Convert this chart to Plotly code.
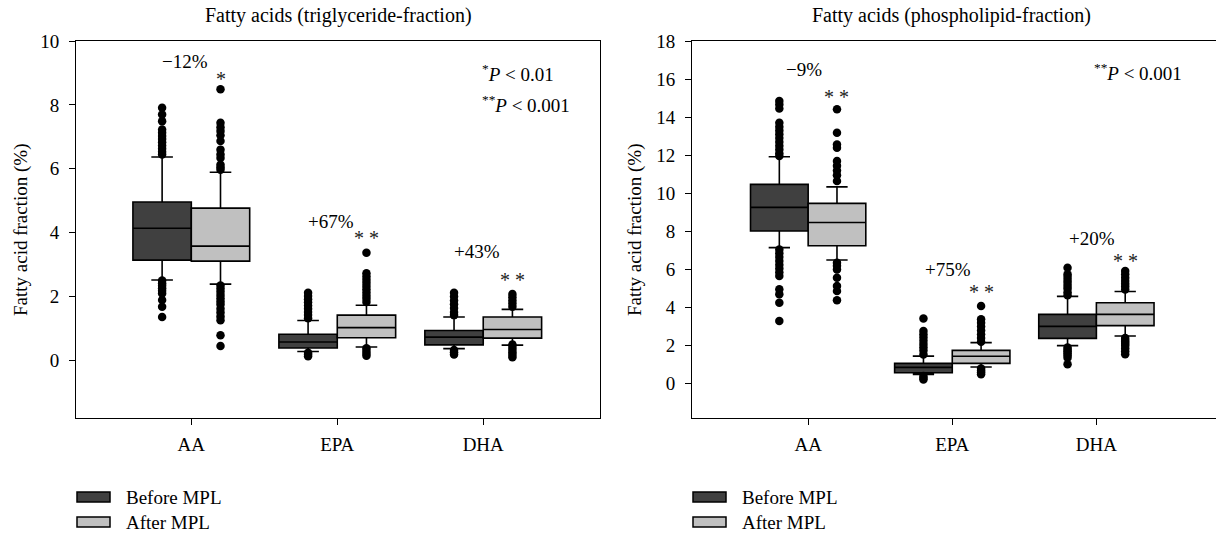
import plotly.graph_objects as go

W, H = 1216, 533

categories = ["AA", "EPA", "DHA"]
series_names = ["Before MPL", "After MPL"]

# Triglyceride fraction: box statistics
tg_before_q1 = [3.14, 0.39, 0.49]
tg_before_med = [4.14, 0.58, 0.73]
tg_before_q3 = [4.96, 0.82, 0.94]
tg_before_lo = [2.52, 0.28, 0.37]
tg_before_hi = [6.37, 1.25, 1.36]
tg_after_q1 = [3.11, 0.71, 0.70]
tg_after_med = [3.58, 1.03, 0.97]
tg_after_q3 = [4.77, 1.42, 1.36]
tg_after_lo = [2.39, 0.42, 0.48]
tg_after_hi = [5.89, 1.73, 1.60]

# Triglyceride fraction: outliers per category
tg_before_out = [
    [7.91, 7.70, 7.49, 7.23, 7.13, 7.03, 6.93, 6.83, 6.73, 6.63, 6.53, 6.45,
     2.50, 2.42, 2.34, 2.26, 2.18, 2.10, 1.89, 1.68, 1.36],
    [2.12, 2.02, 1.92, 1.82, 1.72, 1.62, 1.52, 1.42, 1.32, 0.24, 0.19, 0.13],
    [2.12, 2.00, 1.88, 1.76, 1.64, 1.52, 1.42, 0.33, 0.26, 0.19],
]
tg_after_out = [
    [8.49, 7.44, 7.30, 7.18, 7.05, 6.87, 6.60, 6.45, 6.34, 6.13, 6.05, 5.97,
     2.35, 2.25, 2.15, 2.05, 1.95, 1.85, 1.75, 1.62, 1.50, 1.38, 1.26, 0.79, 0.45],
    [3.37, 2.73, 2.63, 2.53, 2.43, 2.33, 2.23, 2.13, 2.03, 1.93, 1.83,
     0.38, 0.30, 0.22, 0.15],
    [2.08, 1.98, 1.88, 1.78, 1.68, 0.50, 0.42, 0.34, 0.26, 0.18, 0.10],
]

# Phospholipid fraction: box statistics
pl_before_q1 = [8.02, 0.58, 2.38]
pl_before_med = [9.26, 0.86, 3.01]
pl_before_q3 = [10.47, 1.07, 3.64]
pl_before_lo = [7.15, 0.49, 2.00]
pl_before_hi = [11.92, 1.45, 4.59]
pl_after_q1 = [7.25, 1.07, 3.05]
pl_after_med = [8.47, 1.44, 3.64]
pl_after_q3 = [9.47, 1.75, 4.25]
pl_after_lo = [6.50, 0.88, 2.51]
pl_after_hi = [10.34, 2.16, 4.84]

pl_before_out = [
    [14.85, 14.67, 14.45, 13.71, 13.50, 13.30, 13.10, 12.90, 12.70, 12.50, 12.30, 12.10, 11.96,
     7.05, 6.85, 6.65, 6.45, 6.25, 6.05, 5.85, 5.66, 4.96, 4.70, 4.25, 3.29],
    [3.43, 2.77, 2.60, 2.43, 2.26, 2.09, 1.92, 1.75, 1.54, 0.40, 0.30, 0.22],
    [6.09, 5.75, 5.60, 5.45, 5.30, 5.15, 5.00, 4.80, 4.65,
     1.90, 1.80, 1.70, 1.60, 1.50, 1.37, 1.02],
]
pl_after_out = [
    [14.41, 13.18, 12.57, 12.39, 11.70, 11.45, 11.20, 10.95, 10.65,
     6.35, 6.20, 6.00, 5.57, 5.13, 4.87, 4.38],
    [4.08, 3.38, 3.20, 3.00, 2.80, 2.60, 2.40, 2.20, 0.80, 0.70, 0.60, 0.50],
    [5.92, 5.75, 5.57, 5.40, 5.25, 5.10, 4.95,
     2.40, 2.30, 2.20, 2.10, 2.00, 1.85, 1.70, 1.55],
]

# Change labels and significance marks
tg_change = ["\u221212%", "+67%", "+43%"]
tg_change_y = [9.37, 4.34, 3.41]
tg_sig = ["*", "* *", "* *"]
tg_sig_y = [8.80, 3.83, 2.52]
pl_change = ["\u22129%", "+75%", "+20%"]
pl_change_y = [16.5, 6.0, 7.63]
pl_sig = ["* *", "* *", "* *"]
pl_sig_y = [15.05, 4.81, 6.44]

FONT = "Liberation Serif, Times New Roman, serif"
FS = 19
DARK = "#404040"
LIGHT = "#c0c0c0"
OFF = 0.2
BW = 0.4

fig = go.Figure()


def add_panel(xa, ya, stats_b, stats_a, outs_b, outs_a):
    pos = list(range(len(categories)))
    for (q1, med, q3, lo, hi), outs, color, name, sgn in [
        (stats_b, outs_b, DARK, series_names[0], -1),
        (stats_a, outs_a, LIGHT, series_names[1], 1),
    ]:
        xs = [p + sgn * OFF for p in pos]
        fig.add_trace(go.Box(
            x=xs, q1=q1, median=med, q3=q3, lowerfence=lo, upperfence=hi,
            width=BW, whiskerwidth=0.37, boxpoints=False,
            fillcolor=color, line=dict(color="black", width=1.6),
            name=name, showlegend=False, xaxis=xa, yaxis=ya,
        ))
        ox, oy = [], []
        for x, vals in zip(xs, outs):
            ox += [x] * len(vals)
            oy += vals
        fig.add_trace(go.Scatter(
            x=ox, y=oy, mode="markers",
            marker=dict(color="black", size=8.5),
            showlegend=False, xaxis=xa, yaxis=ya, name=name + " outliers",
        ))


add_panel("x", "y",
          (tg_before_q1, tg_before_med, tg_before_q3, tg_before_lo, tg_before_hi),
          (tg_after_q1, tg_after_med, tg_after_q3, tg_after_lo, tg_after_hi),
          tg_before_out, tg_after_out)
add_panel("x2", "y2",
          (pl_before_q1, pl_before_med, pl_before_q3, pl_before_lo, pl_before_hi),
          (pl_after_q1, pl_after_med, pl_after_q3, pl_after_lo, pl_after_hi),
          pl_before_out, pl_after_out)


def px_x(v):
    return v / W


def px_y(v):
    return 1 - v / H


ydom = [px_y(418), px_y(41)]
axis_common = dict(showgrid=False, zeroline=False, showline=True, linecolor="black",
                   linewidth=1, ticks="outside", ticklen=6, tickcolor="black",
                   automargin=False,
                   tickfont=dict(family=FONT, size=FS, color="black"))

fig.update_layout(
    width=W, height=H, margin=dict(l=0, r=0, t=0, b=0, autoexpand=False),
    paper_bgcolor="white", plot_bgcolor="white",
    boxmode="overlay", showlegend=False,
    font=dict(family=FONT, size=FS, color="black"),
    xaxis=dict(domain=[px_x(76), px_x(600)], range=[-0.79, 2.80],
               tickvals=[0, 1, 2], ticktext=categories, mirror=True,
               ticklabelstandoff=3, anchor="y", **axis_common),
    yaxis=dict(domain=ydom, range=[-1.8, 10], tickvals=[0, 2, 4, 6, 8, 10],
               mirror=True, ticklabelstandoff=6, anchor="x", **axis_common),
    xaxis2=dict(domain=[px_x(692), px_x(1216)], range=[-0.806, 2.83],
                tickvals=[0, 1, 2], ticktext=categories, mirror=True,
                ticklabelstandoff=3, anchor="y2", **axis_common),
    yaxis2=dict(domain=ydom, range=[-1.8, 18], tickvals=list(range(0, 19, 2)),
                mirror=False, ticklabelstandoff=6, anchor="x2", **axis_common),
)

ann = []


def note(text, x, y, xref="paper", yref="paper", xanchor="center", yanchor="middle",
         size=FS, color="black", **kw):
    ann.append(dict(text=text, x=x, y=y, xref=xref, yref=yref, xanchor=xanchor,
                    yanchor=yanchor, showarrow=False,
                    font=dict(family=FONT, size=size, color=color), **kw))


# Panel titles
note("Fatty acids (triglyceride-fraction)", px_x(338), px_y(15), size=20)
note("Fatty acids (phospholipid-fraction)", px_x(951), px_y(15), size=20)
# Y-axis titles
for xp in [21, 635]:
    note("Fatty acid fraction (%)", px_x(xp), px_y(230), textangle=-90)
# Change and significance labels
for i in range(3):
    note(tg_change[i], i - 0.04, tg_change_y[i], xref="x", yref="y")
    note(tg_sig[i], i + OFF, tg_sig_y[i], xref="x", yref="y", size=20, color="#222222")
    note(pl_change[i], i - 0.03, pl_change_y[i], xref="x2", yref="y2")
    note(pl_sig[i], i + OFF, pl_sig_y[i], xref="x2", yref="y2", size=20, color="#222222")
# P-value keys
note("<sup>*</sup><i>P</i> &lt; 0.01", px_x(480), px_y(73), xanchor="left")
note("<sup>**</sup><i>P</i> &lt; 0.001", px_x(480), px_y(104), xanchor="left")
note("<sup>**</sup><i>P</i> &lt; 0.001", px_x(1092), px_y(72), xanchor="left")

# Legends drawn below each panel
shapes = []
for x0 in [76, 692]:
    for yc, color, name in [(497, DARK, series_names[0]), (522, LIGHT, series_names[1])]:
        shapes.append(dict(type="rect", xref="paper", yref="paper",
                           x0=px_x(x0 + 1), x1=px_x(x0 + 34),
                           y0=px_y(yc + 5), y1=px_y(yc - 5),
                           fillcolor=color, line=dict(color="black", width=1.5)))
        note(name, px_x(x0 + 48), px_y(yc), xanchor="left")

fig.update_layout(annotations=ann, shapes=shapes)

# Remove the browser's default 8px body margin so the figure fills the window.
fig.write_html("out.html", config={"displayModeBar": False},
               post_script="document.body.style.margin='0px';")
